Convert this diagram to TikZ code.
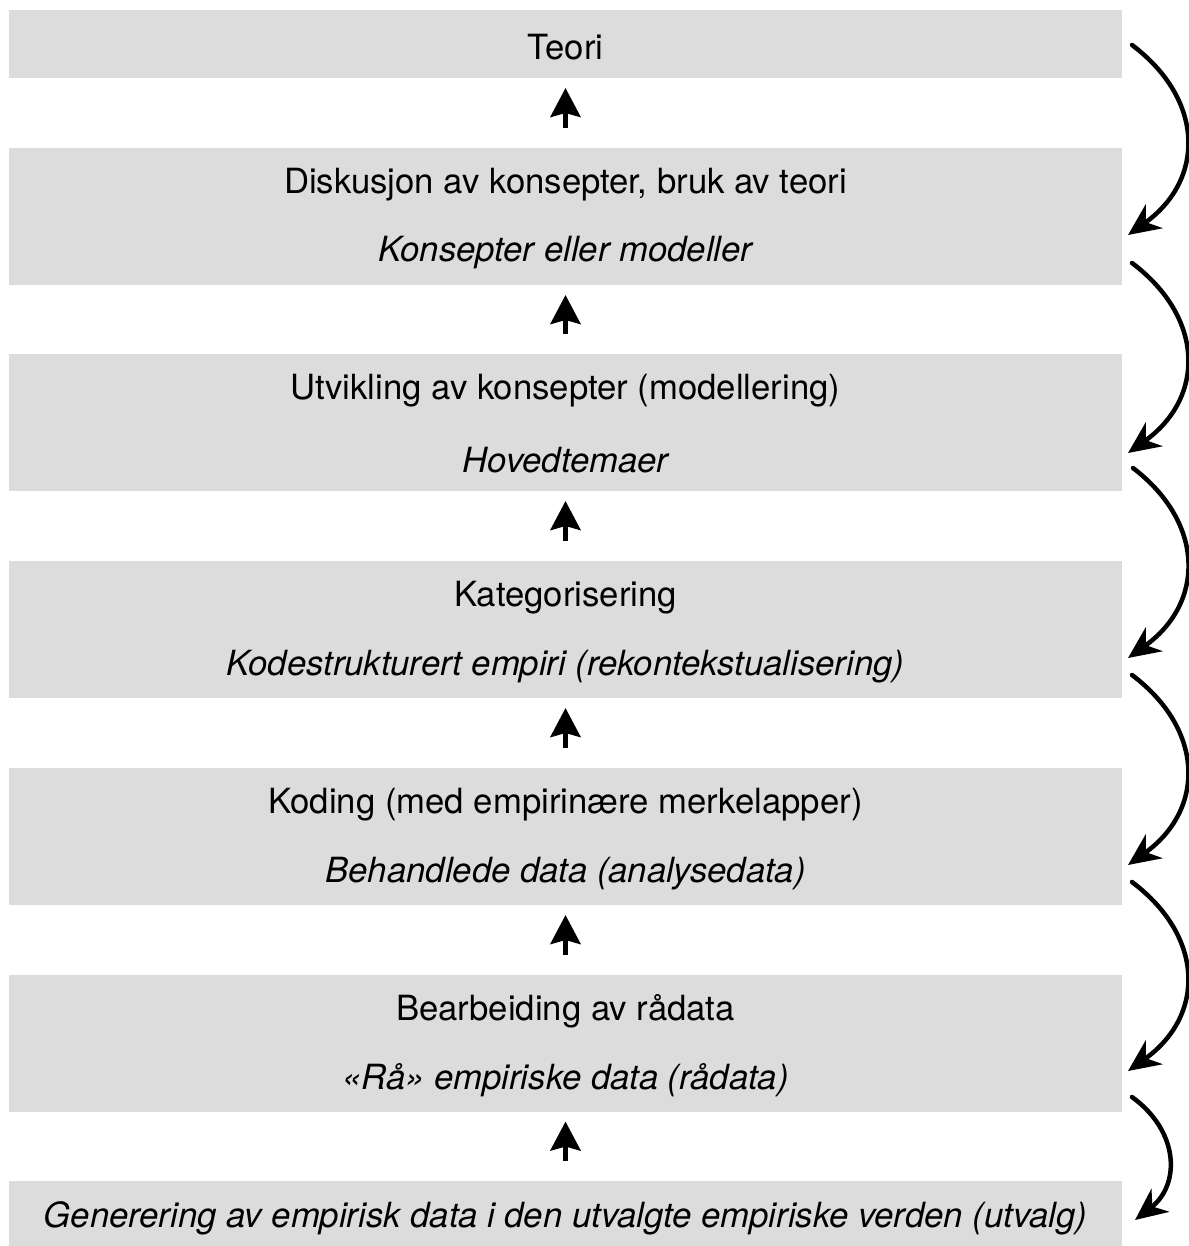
\documentclass[tikz,border=0pt]{standalone}
\usepackage{fontspec}
\setmainfont{TeX Gyre Heros}
\usetikzlibrary{arrows.meta}
\definecolor{boxgray}{HTML}{DCDCDC}
\begin{document}
\begin{tikzpicture}[x=1pt,y=-1pt,
  graybox/.style={fill=boxgray, draw=none, minimum width=1113pt, inner sep=0pt, outer sep=0pt},
  txt/.style={font=\fontsize{34.7}{40}\selectfont, inner sep=0pt, anchor=center, yshift=-3pt},
  itx/.style={txt, font=\fontsize{34.7}{40}\selectfont\itshape},
  uparrow/.style={line width=5pt, -{Stealth[length=29pt,width=30pt,inset=4pt]}},
  curvearrow/.style={line width=4.5pt, line cap=round, -{Stealth[length=32pt,width=29pt,inset=10pt]}}]
\useasboundingbox (0,0) rectangle (1188,1246);
% boxes
\node[graybox, minimum height=68pt] (b1) at (565.5,44) {};
\node[graybox, minimum height=137pt] (b2) at (565.5,216.5) {};
\node[graybox, minimum height=137pt] (b3) at (565.5,422.5) {};
\node[graybox, minimum height=137pt] (b4) at (565.5,629.5) {};
\node[graybox, minimum height=137pt] (b5) at (565.5,836.5) {};
\node[graybox, minimum height=137pt] (b6) at (565.5,1043) {};
\node[graybox, minimum height=65pt] (b7) at (565.5,1213.5) {};
% texts
\node[txt] (t1) at (565.5,44) {Teori};
\node[txt] (t2a) at (565.5,182) {Diskusjon av konsepter, bruk av teori};
\node[itx] (t2b) at (565.5,250) {Konsepter eller modeller};
\node[txt] (t3a) at (565.5,388) {Utvikling av konsepter (modellering)};
\node[itx] (t3b) at (565.5,457) {Hovedtemaer};
\node[txt] (t4a) at (565.5,595) {Kategorisering};
\node[itx] (t4b) at (565.5,664) {Kodestrukturert empiri (rekontekstualisering)};
\node[txt] (t5a) at (565.5,802) {Koding (med empirinære merkelapper)};
\node[itx] (t5b) at (565.5,871) {Behandlede data (analysedata)};
\node[txt] (t6a) at (565.5,1008) {Bearbeiding av rådata};
\node[itx] (t6b) at (565.5,1077) {«Rå» empiriske data (rådata)};
\node[itx] (t7) at (565.5,1215) {Generering av empirisk data i den utvalgte empiriske verden (utvalg)};
% up arrows
\foreach \lo/\hi in {b2/b1,b3/b2,b4/b3,b5/b4,b6/b5,b7/b6}{
  \draw[uparrow] ([yshift=20pt]\lo.north) -- ([yshift=-10pt]\hi.south);
}
% curved arrows
\coordinate (s1) at (1132,45);   \coordinate (e1) at (1128,235);
\coordinate (s2) at (1132,263);  \coordinate (e2) at (1128,453);
\coordinate (s3) at (1133,468);  \coordinate (e3) at (1128,658);
\coordinate (s4) at (1132,675);  \coordinate (e4) at (1128,865);
\coordinate (s5) at (1132,882);  \coordinate (e5) at (1128,1071);
\coordinate (s6) at (1132,1097); \coordinate (e6) at (1135,1220);
\draw[curvearrow] (s1) .. controls (1205,100) and (1205,180) .. (e1);
\draw[curvearrow] (s2) .. controls (1205,318) and (1205,398) .. (e2);
\draw[curvearrow] (s3) .. controls (1205,523) and (1205,603) .. (e3);
\draw[curvearrow] (s4) .. controls (1205,730) and (1205,810) .. (e4);
\draw[curvearrow] (s5) .. controls (1205,937) and (1205,1016) .. (e5);
\draw[curvearrow] (s6) .. controls (1180,1132) and (1180,1185) .. (e6);
\end{tikzpicture}
\end{document}
